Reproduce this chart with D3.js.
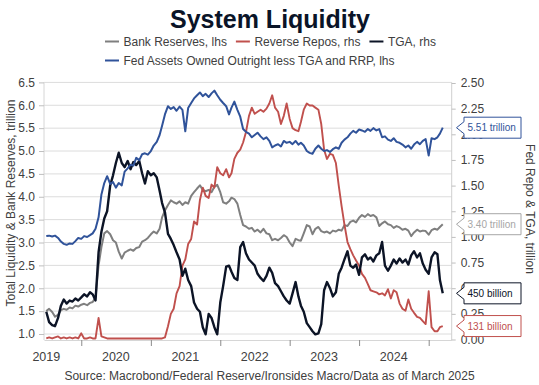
<!DOCTYPE html>
<html>
<head>
<meta charset="utf-8">
<script src="https://cdn.jsdelivr.net/npm/d3@7"></script>
<style>
  body { margin: 0; background: #fff; }
  svg { display: block; font-family: "Liberation Sans", Arial, sans-serif; }
</style>
</head>
<body>
<svg id="chart" width="539" height="385"></svg>
<script>
// semimonthly observations, 1st and 16th of each month, from July 2019
var startYear = 2019, startMonth = 6;

// Fed assets owned outright less TGA and RRP, lhs, trillion
var fedAssets = [3.14,3.15,3.13,3.15,3.10,3.02,2.97,2.95,2.98,2.97,3.03,3.10,3.08,3.14,3.12,3.16,3.20,3.30,3.55,4.05,
  4.30,4.45,4.28,4.32,4.20,4.30,4.25,4.55,4.62,4.70,4.68,4.85,4.80,4.93,4.95,4.92,5.00,5.12,5.20,5.35,
  5.55,5.80,5.98,5.92,5.96,5.88,5.97,5.90,5.43,5.94,6.05,6.15,6.22,6.28,6.20,6.25,6.18,6.26,6.32,6.22,
  6.12,6.05,5.98,5.80,5.95,6.08,5.90,5.75,5.48,5.42,5.38,5.30,5.35,5.40,5.32,5.26,5.30,5.22,5.08,5.12,
  5.15,5.10,5.22,5.18,5.20,5.15,5.22,5.14,5.18,5.12,5.00,4.96,4.94,5.05,5.12,5.05,5.00,5.02,4.98,5.04,
  5.08,5.05,5.18,5.25,5.30,5.38,5.44,5.40,5.47,5.45,5.42,5.48,5.44,5.50,5.45,5.48,5.30,5.32,5.25,5.22,
  5.28,5.20,5.18,5.14,5.08,5.12,5.05,5.14,5.20,5.15,5.22,5.26,4.90,5.28,5.26,5.30,5.38,5.51];

// bank reserves, lhs, trillion
var bankReserves = [1.50,1.55,1.48,1.38,1.42,1.52,1.55,1.53,1.58,1.56,1.62,1.60,1.64,1.66,1.63,1.68,1.70,1.80,2.50,2.90,
  3.20,3.25,3.18,3.05,3.00,2.80,2.65,2.78,2.82,2.85,2.82,2.88,2.90,3.02,3.05,3.10,3.18,3.24,3.20,3.30,
  3.55,3.70,3.82,3.92,3.88,3.85,3.90,3.82,3.88,3.85,4.02,4.10,4.18,4.25,4.15,4.12,4.15,4.10,4.22,4.26,
  4.10,3.88,3.85,3.90,3.98,3.95,3.85,3.60,3.38,3.35,3.30,3.32,3.24,3.28,3.22,3.30,3.20,3.18,3.05,3.08,
  3.05,3.10,3.16,3.12,3.00,2.92,3.08,3.05,3.04,3.20,3.38,3.35,3.18,3.30,3.34,3.25,3.22,3.24,3.20,3.26,
  3.24,3.28,3.26,3.38,3.36,3.45,3.48,3.44,3.54,3.60,3.56,3.62,3.58,3.60,3.55,3.36,3.42,3.46,3.40,3.38,
  3.32,3.36,3.33,3.28,3.30,3.26,3.14,3.22,3.28,3.24,3.26,3.25,3.17,3.27,3.30,3.28,3.34,3.40];

// Treasury General Account, rhs, trillion
var tga = [0.27,0.17,0.14,0.13,0.21,0.33,0.39,0.35,0.38,0.37,0.40,0.38,0.41,0.44,0.42,0.46,0.44,0.38,0.85,1.05,
  1.18,1.25,1.50,1.60,1.72,1.82,1.72,1.68,1.74,1.66,1.73,1.70,1.74,1.62,1.52,1.64,1.60,1.62,1.58,1.45,
  1.33,1.24,1.03,0.98,0.92,0.85,0.78,0.62,0.69,0.58,0.52,0.36,0.30,0.27,0.12,0.05,0.25,0.21,0.12,0.05,
  0.36,0.52,0.71,0.72,0.66,0.60,0.58,0.90,0.95,0.84,0.78,0.75,0.72,0.64,0.60,0.57,0.62,0.70,0.65,0.55,
  0.52,0.47,0.42,0.38,0.35,0.45,0.56,0.42,0.33,0.27,0.16,0.12,0.08,0.05,0.06,0.15,0.48,0.56,0.50,0.42,
  0.46,0.64,0.70,0.78,0.86,0.72,0.70,0.73,0.63,0.80,0.83,0.78,0.80,0.76,0.82,0.84,0.95,0.72,0.67,0.72,
  0.78,0.74,0.79,0.75,0.78,0.73,0.82,0.86,0.80,0.84,0.74,0.68,0.64,0.80,0.85,0.83,0.58,0.45];

// reverse repos, rhs, trillion
var reverseRepos = [0.01,0.02,0.01,0.02,0.03,0.01,0.02,0.01,0.02,0.01,0.02,0.01,0.06,0.01,0.01,0.02,0.01,0.01,0.21,0.03,
  0.02,0.01,0.01,0.01,0.01,0.01,0.01,0.01,0.01,0.01,0.01,0.01,0.01,0.01,0.01,0.01,0.01,0.01,0.01,0.01,
  0.01,0.02,0.13,0.25,0.30,0.45,0.52,0.72,0.78,0.93,0.98,1.15,1.12,1.36,1.48,1.40,1.38,1.51,1.48,1.68,
  1.62,1.60,1.66,1.58,1.62,1.76,1.82,1.85,1.92,2.02,2.18,2.26,2.20,2.22,2.24,2.22,2.25,2.30,2.38,2.26,
  2.22,2.10,2.18,2.30,2.15,2.06,2.04,2.03,2.12,2.24,2.30,2.28,2.28,2.26,2.24,2.10,1.85,1.76,1.81,1.80,
  1.72,1.50,1.30,1.12,0.95,0.88,0.82,0.77,0.72,0.64,0.60,0.54,0.48,0.47,0.46,0.44,0.45,0.43,0.49,0.40,
  0.48,0.46,0.35,0.30,0.28,0.39,0.30,0.26,0.22,0.21,0.18,0.15,0.47,0.12,0.08,0.08,0.12,0.13];

var leftTicks = [1.0,1.5,2.0,2.5,3.0,3.5,4.0,4.5,5.0,5.5,6.0,6.5];
var rightTicks = [0,0.25,0.5,0.75,1.0,1.25,1.5,1.75,2.0,2.25,2.5];
var years = [2019,2020,2021,2022,2023,2024];
var yearBounds = [2020,2021,2022,2023,2024,2025];

var endLabels = [
  { text: "5.51 trillion", value: 5.51, axis: "left", color: "#30539a" },
  { text: "3.40 trillion", value: 3.40, axis: "left", color: "#a6a6a6" },
  { text: "450 billion", value: 0.45, axis: "right", color: "#0c1426" },
  { text: "131 billion", value: 0.131, axis: "right", color: "#c0504d" }
];

var dates = fedAssets.map(function(d, i) {
  return new Date(startYear, startMonth + Math.floor(i / 2), i % 2 ? 16 : 1);
});

var series = [
  { name: "Bank Reserves, lhs", values: bankReserves, axis: "left", color: "#7f7f7f", width: 2 },
  { name: "Reverse Repos, rhs", values: reverseRepos, axis: "right", color: "#c0504d", width: 1.9 },
  { name: "TGA, rhs", values: tga, axis: "right", color: "#0c1426", width: 2.4 },
  { name: "Fed Assets Owned Outright less TGA and RRP, lhs", values: fedAssets, axis: "left", color: "#30539a", width: 2 }
];

var svg = d3.select("#chart");
var txt = "#404040", axisCol = "#bfbfbf";
var plot = { left: 44, right: 451.7, top: 82.4, bottom: 340 };

var x = d3.scaleTime()
  .domain([new Date(2019, 5, 19), new Date(2025, 4, 2)])
  .range([plot.left, plot.right]);
var yL = d3.scaleLinear().domain([1, 6.5]).range([334, 82.4]);
var yR = d3.scaleLinear().domain([0, 2.5]).range([339.5, 83]);

// gridlines on the left ticks
svg.append("g").selectAll("line")
  .data(leftTicks).enter().append("line")
  .attr("x1", plot.left).attr("x2", plot.right)
  .attr("y1", function(d) { return yL(d); }).attr("y2", function(d) { return yL(d); })
  .attr("stroke", "#dcdcdc").attr("stroke-width", 1);

// left axis
var gl = svg.append("g").attr("transform", "translate(" + plot.left + ",0)")
  .call(d3.axisLeft(yL).tickValues(leftTicks).tickFormat(d3.format(".1f")).tickSize(5).tickPadding(4).tickSizeOuter(0));
gl.select(".domain").attr("stroke", "#d6d6d6").attr("d", "M0," + plot.top + "V" + plot.bottom);
gl.selectAll(".tick line").attr("stroke", axisCol);
gl.selectAll(".tick text").attr("fill", txt).style("font-size", "12px");

// right axis
var gr = svg.append("g").attr("transform", "translate(" + plot.right + ",0)")
  .call(d3.axisRight(yR).tickValues(rightTicks).tickFormat(d3.format(".2f")).tickSize(4).tickPadding(5).tickSizeOuter(0));
gr.select(".domain").attr("stroke", "#cfcfcf").attr("d", "M0," + plot.top + "V" + plot.bottom);
gr.selectAll(".tick line").attr("stroke", axisCol);
gr.selectAll(".tick text").attr("fill", txt).style("font-size", "12px");

// bottom axis: ticks on year starts, labels mid-year
var gb = svg.append("g").attr("transform", "translate(0," + plot.bottom + ")")
  .call(d3.axisBottom(x).tickValues(yearBounds.map(function(y) { return new Date(y, 0, 1); }))
    .tickFormat("").tickSize(6).tickSizeOuter(0));
gb.select(".domain").attr("stroke", "#d6d6d6");
gb.selectAll(".tick line").attr("stroke", "#8c8c8c");
svg.append("g").selectAll("text")
  .data(years).enter().append("text")
  .attr("x", function(d) { return x(new Date(d, 6, 1)); })
  .attr("y", 361)
  .attr("text-anchor", "middle")
  .attr("fill", txt).style("font-size", "12.5px")
  .text(function(d) { return d; });

// lines
series.forEach(function(s) {
  var yy = s.axis === "left" ? yL : yR;
  var line = d3.line()
    .x(function(d, i) { return x(dates[i]); })
    .y(function(d) { return yy(d); });
  svg.append("path")
    .datum(s.values)
    .attr("d", line)
    .attr("fill", "none")
    .attr("stroke", s.color)
    .attr("stroke-width", s.width)
    .attr("stroke-linejoin", "round");
});

// end value callouts
endLabels.forEach(function(l) {
  var cy = l.axis === "left" ? yL(l.value) : yR(l.value);
  var bx = 464, bw = 57, bh = 21, tip = 456.5;
  var p = "M" + bx + "," + (cy - bh / 2) + "H" + (bx + bw) + "V" + (cy + bh / 2) + "H" + bx +
    "V" + (cy + 6) + "L" + tip + "," + cy + "L" + bx + "," + (cy - 6) + "Z";
  svg.append("path").attr("d", p).attr("fill", "#fff").attr("stroke", l.color).attr("stroke-width", 1);
  svg.append("text").attr("x", bx + 3.5).attr("y", cy + 3.6)
    .attr("fill", l.color).style("font-size", "10px").text(l.text);
});

// axis titles
svg.append("text")
  .attr("transform", "translate(14.5,203) rotate(-90)")
  .attr("text-anchor", "middle").attr("fill", txt).style("font-size", "12px")
  .text("Total Liquidity & Bank Reserves, trillion");
svg.append("text")
  .attr("transform", "translate(525.5,209) rotate(90)")
  .attr("text-anchor", "middle").attr("fill", txt).style("font-size", "12px")
  .text("Fed Repo & TGA, trillion");

// title
svg.append("text")
  .attr("x", 270).attr("y", 27.5)
  .attr("text-anchor", "middle").attr("fill", "#0a1428")
  .style("font-size", "25px").style("font-weight", "bold")
  .text("System Liquidity");

// legend
var legendRows = [[0, 1, 2], [3]];
legendRows.forEach(function(row, r) {
  var lx = 105, base = 45.5 + r * 19;
  row.forEach(function(k) {
    var s = series[k];
    svg.append("line").attr("x1", lx).attr("x2", lx + 14)
      .attr("y1", base - 4).attr("y2", base - 4)
      .attr("stroke", s.color).attr("stroke-width", 2);
    var t = svg.append("text").attr("x", lx + 18.5).attr("y", base)
      .attr("fill", txt).style("font-size", "12px").text(s.name);
    lx += 18.5 + t.node().getComputedTextLength() + 9;
  });
});

// source
svg.append("text")
  .attr("x", 269.5).attr("y", 380)
  .attr("text-anchor", "middle").attr("fill", txt).style("font-size", "12px")
  .text("Source: Macrobond/Federal Reserve/Ironsides Macro/Data as of March 2025");
</script>
</body>
</html>
